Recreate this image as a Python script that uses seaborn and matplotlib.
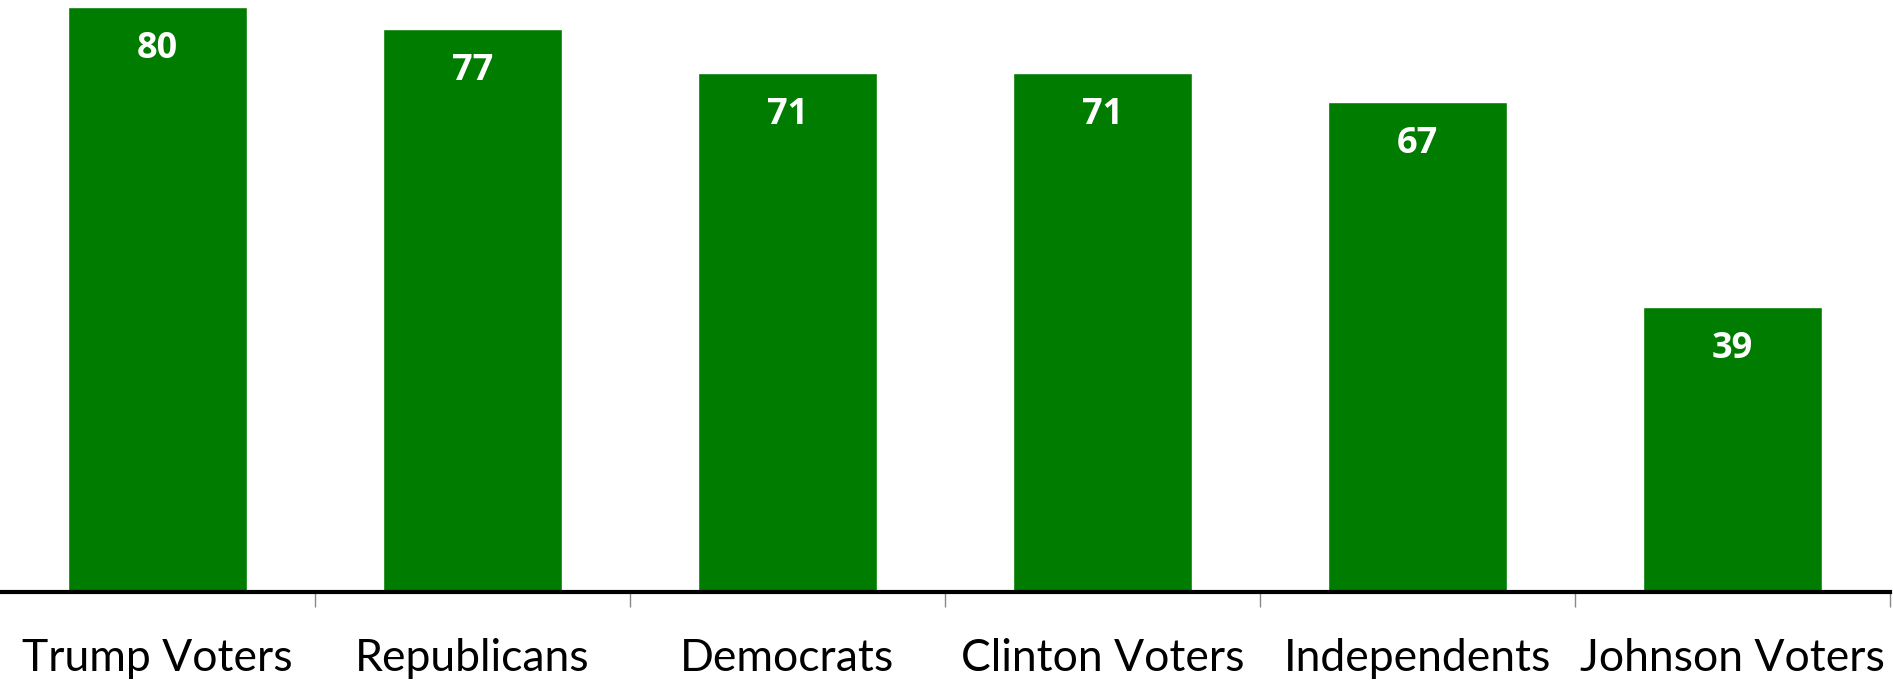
import numpy as np
import pandas as pd
import matplotlib
matplotlib.use("Agg")
import matplotlib.pyplot as plt
import seaborn as sns

categories = ["Trump Voters", "Republicans", "Democrats", "Clinton Voters", "Independents", "Johnson Voters"]
values = [80, 77, 71, 71, 67, 39]

sns.set_style("white")
plt.rcParams['font.family'] = ['Lato', 'DejaVu Sans']

df = pd.DataFrame({'Group': categories, 'Value': values})

fig = plt.figure(figsize=(18.93, 6.81), dpi=100)
ax = fig.add_axes([0, 0.1307, 0.9984, 0.8693])

sns.barplot(data=df, x='Group', y='Value', color='#007c00', saturation=1,
            width=0.57, ax=ax)

ax.set_ylim(0, 81)
ax.set_xlim(-0.5, 5.5)
ax.set_xlabel('')
ax.set_ylabel('')
ax.set_yticks([])

for side in ['top', 'right', 'left']:
    ax.spines[side].set_visible(False)
ax.spines['bottom'].set_linewidth(3)
ax.spines['bottom'].set_color('black')

# category labels, ticks sit between bars
ax.tick_params(axis='x', which='major', bottom=True, length=0, pad=33, labelsize=32, labelcolor='black')
ax.set_xticks(np.arange(0.5, 5.6, 1), minor=True)
ax.tick_params(axis='x', which='minor', bottom=True, length=11, width=1, color='#888888')

# value labels inside bars
for p in ax.patches:
    ax.annotate(f'{p.get_height():.0f}', (p.get_x() + p.get_width() / 2., p.get_height()),
                ha='center', va='center', xytext=(0, -30), textcoords='offset points',
                color='white', fontsize=26, fontweight='bold', family=['Open Sans', 'DejaVu Sans'])

fig.savefig('out.png', dpi=100)
